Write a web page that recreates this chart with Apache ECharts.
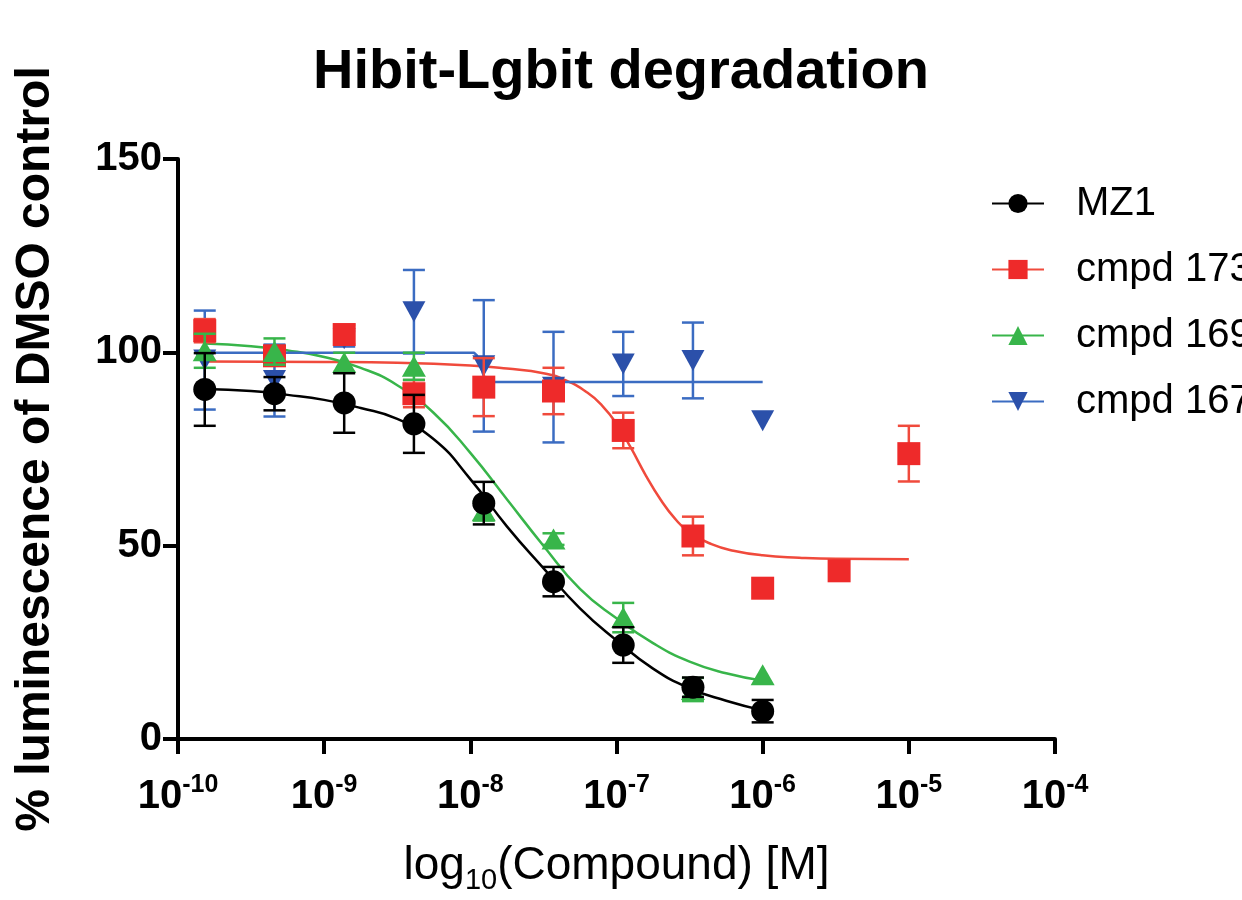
<!DOCTYPE html>
<html>
<head>
<meta charset="utf-8">
<script src="https://cdn.jsdelivr.net/npm/echarts@6/dist/echarts.min.js"></script>
<style>
  html, body { margin: 0; padding: 0; background: #fff; }
  #chart { width: 1242px; height: 900px; }
</style>
</head>
<body>
<div id="chart"></div>
<script>
const chart = echarts.init(document.getElementById("chart"));
const FONT = "'Liberation Sans', Arial, Helvetica, sans-serif";

// concentrations as log10(M), 3-fold dilutions
const LOG_CONC = [-9.817, -9.340, -8.863, -8.386, -7.908, -7.431, -6.954, -6.477, -6.0, -5.477, -5.0];
const X_TICKS = [-10, -9, -8, -7, -6, -5, -4];
const Y_TICKS = [0, 50, 100, 150];

const MZ1_Y = [90.4, 89.3, 86.9, 81.5, 61.0, 40.7, 24.3, 13.4, 7.2];
const MZ1_ERR = [9.4, 4.3, 7.7, 7.5, 5.5, 3.8, 4.6, 2.5, 2.9];
const C173_Y = [105.6, 99.1, 104.6, 89.3, 91.0, 90.0, 79.8, 52.5, 39.0, 43.5, 73.8];
const C173_ERR = [3.0, 2.5, 2.5, 3.5, 7.5, 6.0, 4.6, 5.0, 0, 0, 7.2];
const C169_Y = [100.4, 100.2, 97.4, 96.4, 59.0, 51.7, 31.4, 12.8, 16.6];
const C169_ERR = [4.4, 3.4, 2.5, 3.5, 2.5, 1.5, 3.8, 3.0, 0];
const C167_Y = [98.0, 92.7, 103.5, 110.5, 96.5, 91.0, 97.0, 97.9, 82.3];
const C167_ERR = [12.8, 9.3, 2.0, 10.8, 17.0, 14.3, 8.3, 9.8, 0];

// fitted curves
const FIT_X = [-9.817, -9.5, -9.25, -9.0, -8.75, -8.5, -8.25, -8.0, -7.75, -7.5, -7.25, -7.0, -6.75, -6.5, -6.25, -6.0];
const MZ1_FIT = [90.5, 90.0, 89.0, 87.7, 85.6, 82.8, 77.5, 67.2, 55.0, 44.2, 33.8, 25.5, 18.2, 13.1, 9.9, 7.4];
const C169_FIT = [102.3, 101.6, 100.5, 98.8, 96.0, 91.5, 84.3, 74.0, 62.0, 50.0, 38.8, 31.2, 24.8, 20.0, 17.0, 15.1];
const C173_FIT_X = [-9.817, -9.0, -8.5, -8.0, -7.75, -7.5, -7.35, -7.2, -7.1, -7.0, -6.9, -6.8, -6.7, -6.6, -6.5, -6.35, -6.2, -6.0, -5.75, -5.5, -5.0];
const C173_FIT = [97.6, 97.5, 97.3, 96.6, 95.8, 94.6, 92.8, 89.6, 86.3, 81.6, 75.2, 68.2, 62.0, 57.0, 53.4, 50.4, 48.7, 47.5, 46.9, 46.6, 46.5];
const C167_FIT_X = [-9.817, -7.975, -7.955, -7.935, -7.915, -7.895, -7.87, -6.0];
const C167_FIT = [99.9, 99.9, 99.2, 97.2, 94.6, 92.9, 92.3, 92.3];

const BLACK = "#000000", RED = "#ee2a2a", RED_LINE = "#f04a3c";
const GREEN = "#38b54a", BLUE = "#2b50aa", BLUE_LINE = "#3b6cc2";
const DOWN_TRI = "path://M0,0L20,0L10,18Z";

const zip = (xs, ys) => ys.map((y, i) => [xs[i], y]);

function fitSeries(name, xs, ys, color, lineColor, symbol, smooth) {
  return {
    name, type: "line", data: zip(xs, ys), z: 2,
    showSymbol: false, symbol, symbolSize: 20,
    smooth: smooth ? 0.5 : false,
    itemStyle: { color },
    lineStyle: { color: lineColor, width: 2.5 },
    silent: true
  };
}

function errSeries(name, ys, errs, color, z) {
  return {
    name, type: "custom", z, silent: true, clip: false,
    data: ys.map((y, i) => [LOG_CONC[i], y, errs[i]]).filter(d => d[2] > 0),
    renderItem(params, api) {
      const x = api.value(0), y = api.value(1), e = api.value(2);
      const hi = api.coord([x, y + e]);
      const lo = api.coord([x, y - e]);
      const w = 11;
      const style = { stroke: color, lineWidth: 2.5 };
      return {
        type: "group",
        children: [
          { type: "line", shape: { x1: hi[0], y1: hi[1], x2: lo[0], y2: lo[1] }, style },
          { type: "line", shape: { x1: hi[0] - w, y1: hi[1], x2: hi[0] + w, y2: hi[1] }, style },
          { type: "line", shape: { x1: lo[0] - w, y1: lo[1], x2: lo[0] + w, y2: lo[1] }, style }
        ]
      };
    }
  };
}

function pointSeries(name, ys, color, symbol, size, z) {
  return {
    name, type: "scatter", z, silent: true,
    data: zip(LOG_CONC, ys), symbol, symbolSize: size,
    itemStyle: { color, opacity: 1 }
  };
}

chart.setOption({
  animation: false,
  textStyle: { fontFamily: FONT },
  title: {
    text: "Hibit-Lgbit degradation",
    left: "center", top: 40,
    textStyle: { fontSize: 56, fontWeight: "bold", color: "#000", fontFamily: FONT }
  },
  legend: {
    data: ["MZ1", "cmpd 173", "cmpd 169", "cmpd 167"],
    orient: "vertical", left: 986, top: 176,
    itemWidth: 52, itemHeight: 24, itemGap: 21,
    selectedMode: false,
    textStyle: { fontSize: 40, color: "#000", fontFamily: FONT, padding: [0, 0, 0, 27], lineHeight: 45 }
  },
  grid: { left: 178, right: 187, top: 159, bottom: 158 },
  xAxis: {
    type: "value", min: X_TICKS[0], max: X_TICKS[X_TICKS.length - 1], interval: 1,
    splitLine: { show: false },
    axisLine: { show: true, onZero: false, lineStyle: { color: "#000", width: 4 } },
    axisTick: { show: true, length: 15, lineStyle: { color: "#000", width: 4 } },
    axisLabel: {
      margin: 34,
      formatter: v => "{b|10}{s|" + Math.round(v) + "}",
      rich: {
        b: { fontSize: 40, fontWeight: "bold", color: "#000", fontFamily: FONT, lineHeight: 44, verticalAlign: "bottom" },
        s: { fontSize: 25, fontWeight: "bold", color: "#000", fontFamily: FONT, lineHeight: 26, verticalAlign: "top" }
      }
    },
    name: "{m|log}{sub|10}{m|(Compound) [M]}",
    nameLocation: "middle", nameGap: 104,
    nameTextStyle: {
      rich: {
        m: { fontSize: 46, color: "#000", fontFamily: FONT, lineHeight: 52, verticalAlign: "top" },
        sub: { fontSize: 29, color: "#000", fontFamily: FONT, lineHeight: 30, verticalAlign: "bottom" }
      }
    }
  },
  yAxis: {
    type: "value", min: Y_TICKS[0], max: Y_TICKS[Y_TICKS.length - 1], interval: 50,
    splitLine: { show: false },
    axisLine: { show: true, lineStyle: { color: "#000", width: 4 } },
    axisTick: { show: true, length: 15, lineStyle: { color: "#000", width: 4 } },
    axisLabel: { fontSize: 40, fontWeight: "bold", color: "#000", fontFamily: FONT, margin: 16 },
    name: "% luminescence of DMSO control",
    nameLocation: "middle", nameGap: 118,
    nameTextStyle: { fontSize: 48, fontWeight: "bold", color: "#000", fontFamily: FONT }
  },
  series: [
    fitSeries("MZ1", FIT_X, MZ1_FIT, BLACK, BLACK, "circle", true),
    fitSeries("cmpd 173", C173_FIT_X, C173_FIT, RED, RED_LINE, "rect", true),
    fitSeries("cmpd 169", FIT_X, C169_FIT, GREEN, GREEN, "triangle", true),
    fitSeries("cmpd 167", C167_FIT_X, C167_FIT, BLUE, BLUE_LINE, DOWN_TRI, false),
    errSeries("cmpd 167", C167_Y, C167_ERR, BLUE_LINE, 3),
    pointSeries("cmpd 167", C167_Y, BLUE, DOWN_TRI, [23, 21], 4),
    errSeries("cmpd 173", C173_Y, C173_ERR, RED_LINE, 5),
    pointSeries("cmpd 173", C173_Y, RED, "rect", 23, 6),
    errSeries("cmpd 169", C169_Y, C169_ERR, GREEN, 7),
    pointSeries("cmpd 169", C169_Y, GREEN, "triangle", [24, 21], 8),
    errSeries("MZ1", MZ1_Y, MZ1_ERR, BLACK, 9),
    pointSeries("MZ1", MZ1_Y, BLACK, "circle", 23, 10)
  ]
});
</script>
</body>
</html>
